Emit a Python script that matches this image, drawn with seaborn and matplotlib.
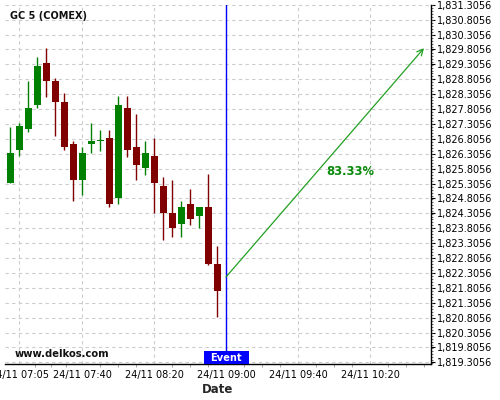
import matplotlib
matplotlib.use("Agg")
import matplotlib.pyplot as plt
import matplotlib.dates as mdates
import matplotlib.ticker as mticker
from matplotlib.patches import Rectangle
import seaborn as sns
import pandas as pd
import numpy as np

sns.set_theme(style="whitegrid")
plt.rcParams['font.family'] = ['DejaVu Sans']

# Candle data (5 minute bars)
times = pd.date_range('2020-11-24 07:00', periods=24, freq='5min')
opens = [1825.33, 1826.43, 1827.14, 1827.95, 1829.35, 1828.75, 1828.04, 1826.63,
         1825.43, 1826.64, 1826.74, 1826.84, 1824.83, 1827.85, 1826.54, 1825.84,
         1826.24, 1825.22, 1824.33, 1823.94, 1824.62, 1824.22, 1824.52, 1822.60]
highs = [1827.21, 1827.33, 1828.75, 1829.54, 1829.84, 1828.86, 1828.33, 1826.72,
         1826.54, 1827.33, 1827.12, 1827.12, 1828.23, 1828.23, 1827.63, 1826.72,
         1826.83, 1825.51, 1825.42, 1824.72, 1825.12, 1824.52, 1825.62, 1823.21]
lows = [1825.31, 1826.23, 1827.02, 1827.83, 1828.22, 1826.91, 1826.42, 1824.72,
        1824.92, 1826.32, 1826.41, 1824.51, 1824.62, 1826.20, 1825.41, 1825.61,
        1824.31, 1823.41, 1823.50, 1823.50, 1823.90, 1823.80, 1822.57, 1820.82]
closes = [1826.32, 1827.24, 1827.84, 1829.25, 1828.76, 1828.05, 1826.54, 1825.43,
          1826.33, 1826.73, 1826.77, 1824.62, 1827.94, 1826.44, 1825.94, 1826.33,
          1825.33, 1824.33, 1823.82, 1824.51, 1824.12, 1824.52, 1822.61, 1821.71]

event_time = pd.Timestamp('2020-11-24 09:00')
arrow_from = (event_time, 1822.17)
arrow_to = (pd.Timestamp('2020-11-24 10:50'), 1829.85)
prob_pos = (pd.Timestamp('2020-11-24 10:09'), 1825.72)
prob_label = '83.33%'

x_major = pd.to_datetime(['2020-11-24 07:05', '2020-11-24 07:40', '2020-11-24 08:20',
                          '2020-11-24 09:00', '2020-11-24 09:40', '2020-11-24 10:20'])
y_ticks = np.arange(1819.3056, 1831.31, 0.5)

up_color = '#008000'
down_color = '#800000'

df = pd.DataFrame({'time': times, 'open': opens, 'high': highs,
                   'low': lows, 'close': closes})
df['up'] = df['close'] >= df['open']
df['color'] = np.where(df['up'], up_color, down_color)
df['bottom'] = df[['open', 'close']].min(axis=1)
df['height'] = (df['close'] - df['open']).abs().clip(lower=0.03)

fig = plt.figure(figsize=(5, 4), dpi=100)
ax = fig.add_axes([0.01, 0.09, 0.852, 0.898])

xnum = mdates.date2num(df['time'])
ax.vlines(xnum, df['low'], df['high'], colors=df['color'], lw=1, zorder=3)
ax.bar(xnum, df['height'], bottom=df['bottom'], width=3.9 / 1440,
       color=df['color'], edgecolor='none', zorder=4)

ev = mdates.date2num(event_time)
ax.axvline(ev, color='blue', lw=1, zorder=5)

ax.annotate('', xy=(mdates.date2num(arrow_to[0]), arrow_to[1]),
            xytext=(mdates.date2num(arrow_from[0]), arrow_from[1]),
            arrowprops=dict(arrowstyle='->', color='#22a022', lw=0.9,
                            mutation_scale=11, shrinkA=0, shrinkB=0), zorder=5)
ax.text(mdates.date2num(prob_pos[0]), prob_pos[1], prob_label, color='#0a8a0a',
        fontsize=8.3, fontweight='bold', ha='center', va='center', zorder=6)

# Event badge
half = 12.5 / 1440
ax.add_patch(Rectangle((ev - half, 0), 2 * half, 0.036, transform=ax.get_xaxis_transform(),
                       facecolor='blue', edgecolor='none', zorder=6, clip_on=False))
ax.text(ev, 0.018, 'Event', transform=ax.get_xaxis_transform(), color='white',
        fontsize=7.1, fontweight='bold', ha='center', va='center', zorder=7)

ax.text(0.012, 0.97, 'GC 5 (COMEX)', transform=ax.transAxes, fontsize=7,
        fontweight='bold', color='#111111', ha='left', va='center')
ax.text(0.023, 0.028, 'www.delkos.com', transform=ax.transAxes, fontsize=7.2,
        fontweight='bold', color='#111111', ha='left', va='center')

x_lo = pd.Timestamp('2020-11-24 06:57:12')
x_hi = pd.Timestamp('2020-11-24 10:53:54')
ax.set_xlim(mdates.date2num(x_lo), mdates.date2num(x_hi))
ax.set_ylim(1819.25, 1831.3056)

ax.xaxis.set_major_locator(mticker.FixedLocator(mdates.date2num(x_major)))
ax.xaxis.set_major_formatter(mdates.DateFormatter('%d/%m %H:%M'))
maj = mdates.date2num(x_major)
minors = []
for a, b in zip(maj[:-1], maj[1:]):
    minors += list(np.linspace(a, b, 5)[1:-1])
minors += list(maj[-1] + np.arange(1, 4) * (maj[-1] - maj[-2]) / 4)
ax.xaxis.set_minor_locator(mticker.FixedLocator(minors))

ax.yaxis.tick_right()
ax.set_yticks(y_ticks)
ax.yaxis.set_major_formatter(mticker.FuncFormatter(lambda v, p: f'{v:,.4f}'))
ax.yaxis.set_minor_locator(mticker.MultipleLocator(0.1))

ax.tick_params(axis='both', which='major', labelsize=7, colors='black',
               direction='out', length=3, width=0.8, pad=1.5)
ax.tick_params(axis='x', which='both', color='#999999')
ax.tick_params(axis='y', which='minor', length=1.5, width=0.6, color='#555555', right=True, left=False)
ax.tick_params(axis='x', which='minor', length=2, width=0.6, bottom=True)

ax.grid(True, which='major', color='#cccccc', linestyle=(0, (3, 3)), lw=0.8)
ax.set_facecolor('white')
for side in ['left', 'top']:
    ax.spines[side].set_visible(False)
for side in ['right', 'bottom']:
    ax.spines[side].set_color('black')
    ax.spines[side].set_linewidth(1)

ax.set_xlabel('Date', fontsize=8.5, fontweight='bold', labelpad=2)
ax.set_ylabel('')

fig.savefig('out.png', dpi=100, facecolor='white')
